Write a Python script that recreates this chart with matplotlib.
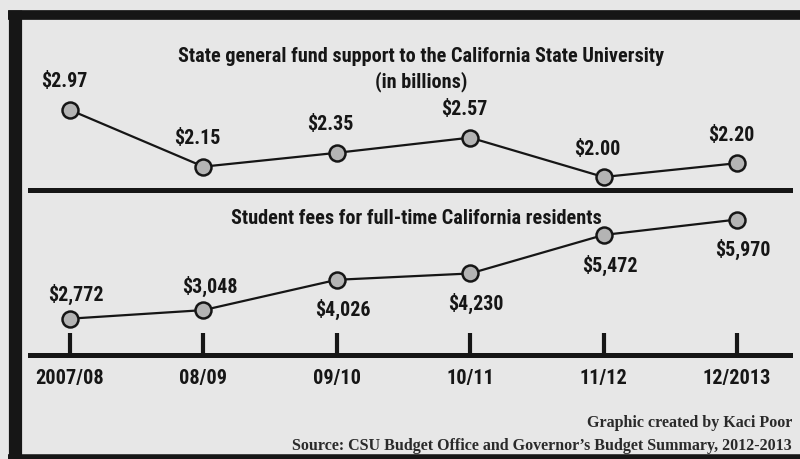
import matplotlib
matplotlib.use('Agg')
import matplotlib.pyplot as plt

# data
years = ['2007/08', '08/09', '09/10', '10/11', '11/12', '12/2013']
state_fund = [2.97, 2.15, 2.35, 2.57, 2.00, 2.20]          # billions
student_fees = [2772, 3048, 4026, 4230, 5472, 5970]        # dollars
fee_label_side = ['above', 'above', 'below', 'below', 'below', 'below']

W, H = 800, 459
BG = '#e7e7e7'
INK = '#161616'
SANS = ['Roboto Condensed', 'Roboto', 'DejaVu Sans']
SERIF = ['Liberation Serif', 'DejaVu Serif']

fig = plt.figure(figsize=(W / 100, H / 100), dpi=100, facecolor=BG)


def box(x0, y0, x1, y1):
    # pixel box (top-left origin) -> figure fraction rect
    return [x0 / W, 1 - y1 / H, (x1 - x0) / W, (y1 - y0) / H]


# overlay for frame and footer
bg = fig.add_axes([0, 0, 1, 1])
bg.set_xlim(0, W)
bg.set_ylim(H, 0)
bg.axis('off')
bg.plot([8, W], [14.5, 14.5], color=INK, lw=7, solid_capstyle='butt')
bg.plot([14.5, 14.5], [10, H], color=INK, lw=9.5, solid_capstyle='butt')
bg.plot([8, W], [457, 457], color=INK, lw=4, solid_capstyle='butt')

title_kw = dict(ha='center', va='center', fontsize=14.6, fontweight='bold',
                color=INK, family=SANS)
bg.text(421, 57, 'State general fund support to the California State University', **title_kw)
bg.text(421, 82, '(in billions)', **title_kw)
bg.text(416, 218, 'Student fees for full-time California residents', **title_kw)

foot_kw = dict(ha='right', va='center', fontsize=11.5, fontweight='bold',
               color='#2a2a2a', family=SERIF)
bg.text(792, 423, 'Graphic created by Kaci Poor', **foot_kw)
bg.text(792, 446, "Source: CSU Budget Office and Governor\u2019s Budget Summary, 2012-2013",
        **foot_kw)

# x mapping: index 0 -> px 70, index 5 -> px 737 across axes from px 30 to 790
unit = (737 - 70) / 5
xlim = (-(70 - 30) / unit, 5 + (790 - 737) / unit)
xs = list(range(len(years)))

line_kw = dict(color=INK, lw=1.6, marker='o', markersize=11.5,
               markerfacecolor='#b4b4b4', markeredgecolor=INK, markeredgewidth=1.8)
label_kw = dict(textcoords='offset pixels', ha='center', va='center', fontsize=14.4,
                fontweight='bold', color=INK, family=SANS)

# top panel
ax1 = fig.add_axes(box(30, 95, 790, 190))
ax1.set_facecolor('none')
ax1.set_xlim(*xlim)
ax1.set_ylim(1.812, 3.187)
ax1.plot(xs, state_fund, **line_kw, clip_on=False)
for x, v in zip(xs, state_fund):
    ax1.annotate(f'${v:.2f}', (x, v), xytext=(-6, 28), **label_kw)
for s in ['top', 'left', 'right']:
    ax1.spines[s].set_visible(False)
ax1.spines['bottom'].set_linewidth(3.6)
ax1.spines['bottom'].set_color(INK)
ax1.set_xticks([])
ax1.set_yticks([])

# bottom panel
ax2 = fig.add_axes(box(30, 200, 790, 355))
ax2.set_facecolor('none')
ax2.set_xlim(*xlim)
ax2.set_ylim(1600, 6600)
ax2.plot(xs, student_fees, **line_kw, clip_on=False)
for x, v, side in zip(xs, student_fees, fee_label_side):
    dy = 24 if side == 'above' else -30
    ax2.annotate(f'${v:,}', (x, v), xytext=(6, dy), **label_kw)
for s in ['top', 'left', 'right']:
    ax2.spines[s].set_visible(False)
ax2.spines['bottom'].set_linewidth(3.6)
ax2.spines['bottom'].set_color(INK)
ax2.set_yticks([])
ax2.set_xticks(xs)
ax2.set_xticklabels(years, fontsize=14.6, fontweight='bold', color=INK, family=SANS)
ax2.tick_params(axis='x', direction='in', length=16, width=3, color=INK, pad=10)

fig.savefig('out.png', dpi=100, facecolor=BG)
